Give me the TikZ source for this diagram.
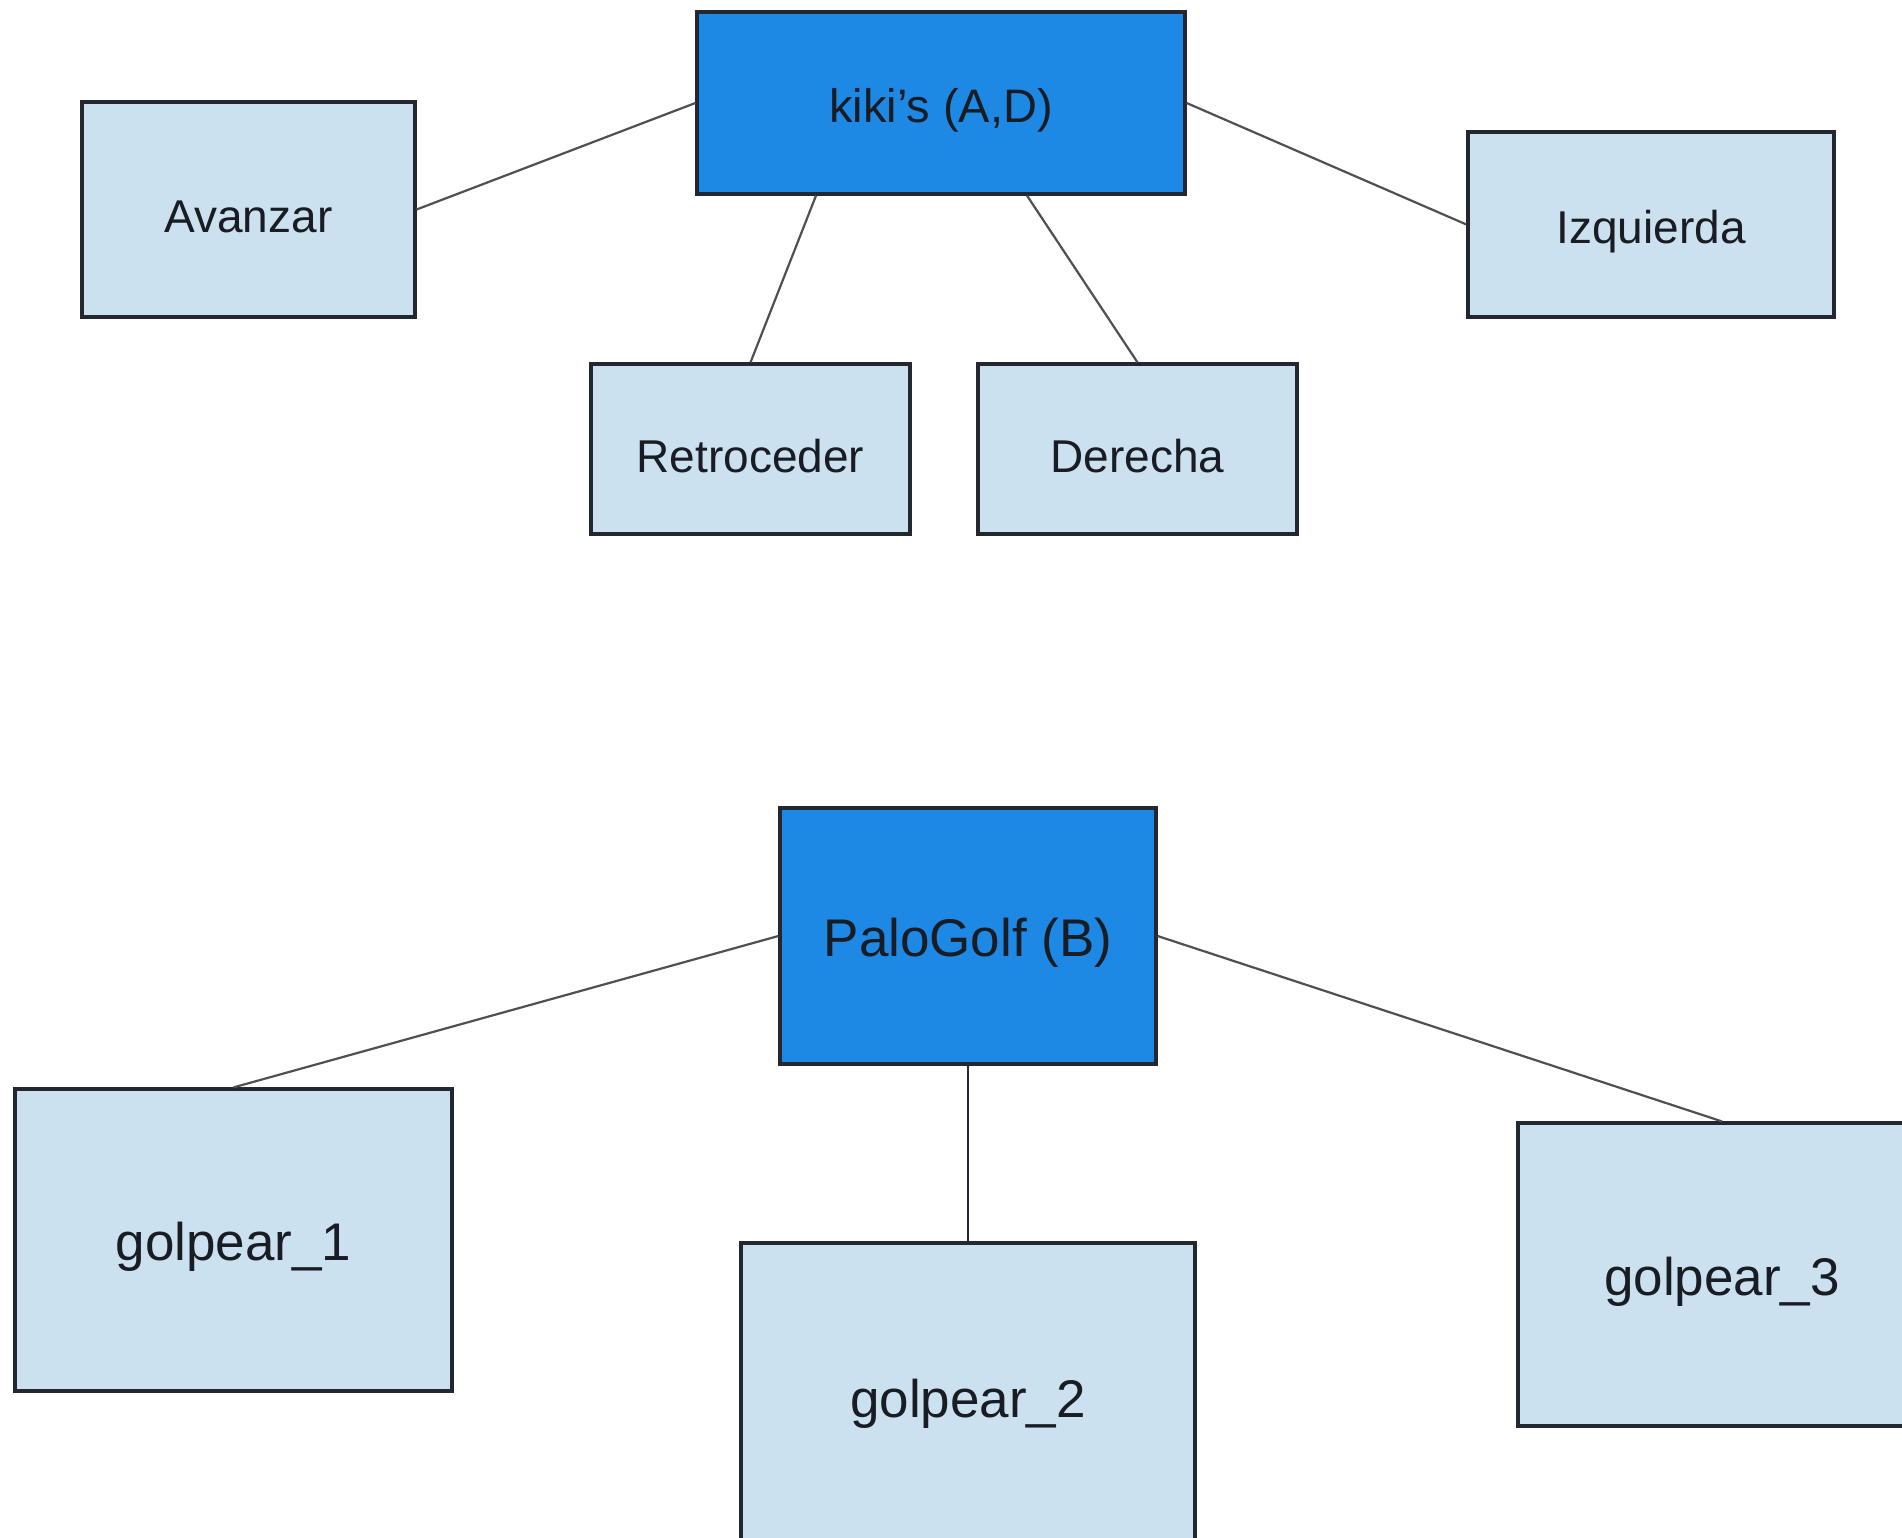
\documentclass[tikz,border=0pt]{standalone}
\usepackage{fontspec}
\setmainfont{Liberation Sans}
\definecolor{darkfill}{RGB}{30,136,229}
\definecolor{lightfill}{RGB}{203,225,240}
\definecolor{boxline}{RGB}{35,40,48}
\definecolor{edgecol}{RGB}{80,80,80}
\definecolor{txt}{RGB}{25,28,35}
\newcommand{\lowtext}[1]{\raisebox{-7pt}[\height][\depth]{#1}}
\begin{document}
\begin{tikzpicture}[x=1pt,y=-1pt,
  box/.style={draw=boxline, line width=3.2pt, rectangle, inner sep=0pt, text=txt, anchor=center},
  parentbox/.style={box, fill=darkfill, font=\fontsize{47}{56}\selectfont},
  topchild/.style={box, fill=lightfill, font=\fontsize{46}{55}\selectfont},
  botparent/.style={box, fill=darkfill, font=\fontsize{53}{62}\selectfont},
  botchild/.style={box, fill=lightfill, font=\fontsize{53}{62}\selectfont},
  link/.style={draw=edgecol, line width=2.2pt}]
\useasboundingbox (0,0) rectangle (1902,1538);
\clip (0,0) rectangle (1902,1538);
\fill[white] (0,0) rectangle (1902,1538);
% top group
\node[parentbox, minimum width=488pt, minimum height=182pt] (kiki) at (941,103) {\lowtext{kiki's (A,D)}};
\node[topchild, minimum width=333pt, minimum height=215pt] (ava) at (248.5,209.5) {\lowtext{Avanzar}};
\node[topchild, minimum width=366pt, minimum height=185pt] (izq) at (1651,224.5) {\lowtext{Izquierda}};
\node[topchild, minimum width=319pt, minimum height=170pt] (ret) at (750.5,449) {\lowtext{Retroceder}};
\node[topchild, minimum width=319pt, minimum height=170pt] (der) at (1137.5,449) {\lowtext{Derecha}};
\draw[link] (ava.east) -- (kiki.west);
\draw[link] ([xshift=-125pt]kiki.south) -- (ret.north);
\draw[link] ([xshift=86pt]kiki.south) -- (der.north);
\draw[link] (kiki.east) -- (izq.west);
% bottom group
\node[botparent, minimum width=376pt, minimum height=256pt] (palo) at (968,936) {\lowtext{PaloGolf (B)}};
\node[botchild, minimum width=437pt, minimum height=302pt] (g1) at (233.5,1240) {\lowtext{golpear\_1}};
\node[botchild, minimum width=454pt, minimum height=308pt] (g2) at (968,1397) {\lowtext{golpear\_2}};
\node[botchild, minimum width=408pt, minimum height=303pt] (g3) at (1722,1274.5) {\lowtext{golpear\_3}};
\draw[link] (palo.west) -- (g1.north);
\draw[link, draw=boxline] (palo.south) -- (g2.north);
\draw[link] (palo.east) -- (g3.north);
\end{tikzpicture}
\end{document}
